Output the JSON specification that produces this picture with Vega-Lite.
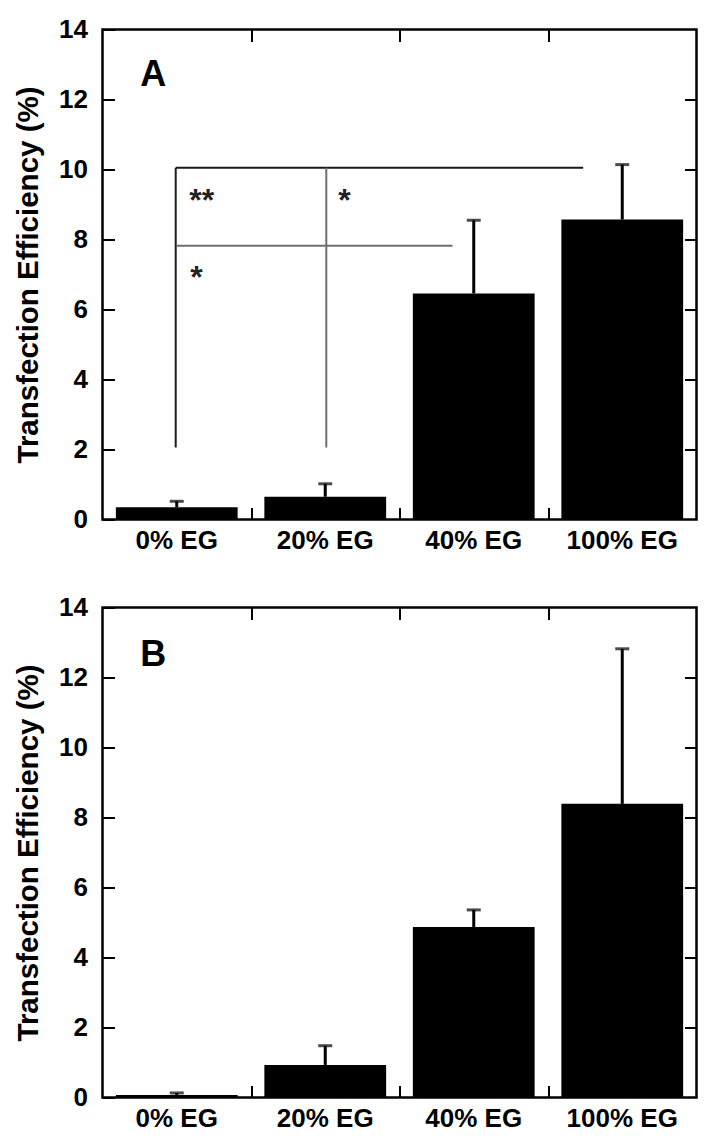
{
  "$schema": "https://vega.github.io/schema/vega-lite/v6.json",
  "padding": {"left": 11.5, "top": 14.5, "right": 12, "bottom": 10},
  "bounds": "flush",
  "spacing": 88,
  "config": {
    "font": "Liberation Sans",
    "view": {"stroke": "black", "strokeWidth": 2.5},
    "axis": {
      "labelFont": "Liberation Sans",
      "labelFontWeight": "bold",
      "labelColor": "black",
      "titleFont": "Liberation Sans",
      "titleColor": "black",
      "titleFontWeight": "bold",
      "tickColor": "black",
      "tickWidth": 2,
      "domain": false,
      "grid": false
    }
  },
  "datasets": {
    "barsA": [
      {"group": "0% EG", "value": 0.35, "upper": 0.52},
      {"group": "20% EG", "value": 0.65, "upper": 1.02},
      {"group": "40% EG", "value": 6.46, "upper": 8.55},
      {"group": "100% EG", "value": 8.57, "upper": 10.14}
    ],
    "barsB": [
      {"group": "0% EG", "value": 0.07, "upper": 0.13},
      {"group": "20% EG", "value": 0.93, "upper": 1.48},
      {"group": "40% EG", "value": 4.87, "upper": 5.36},
      {"group": "100% EG", "value": 8.39, "upper": 12.82}
    ],
    "sigLines": [
      {"x": 0.493, "x2": 3.237, "y": 10.05, "y2": 10.05, "tone": "dark"},
      {"x": 0.493, "x2": 0.493, "y": 2.06, "y2": 10.05, "tone": "dark"},
      {"x": 1.507, "x2": 1.507, "y": 2.06, "y2": 10.05, "tone": "light"},
      {"x": 0.5, "x2": 2.357, "y": 7.82, "y2": 7.82, "tone": "light"}
    ],
    "sigText": [
      {"x": 0.668, "y": 9.37, "text": "**"},
      {"x": 1.63, "y": 9.36, "text": "*"},
      {"x": 0.633, "y": 7.16, "text": "*"}
    ]
  },
  "vconcat": [
    {
      "width": 594,
      "height": 490,
      "layer": [
        {
          "data": {"name": "barsA"},
          "mark": {"type": "bar", "color": "black"},
          "encoding": {
            "x": {"field": "group", "type": "nominal", "sort": ["0% EG", "20% EG", "40% EG", "100% EG"],
              "scale": {"paddingInner": 0.18, "paddingOuter": 0.09},
              "axis": {"title": null, "labelAngle": 0, "ticks": false, "labelFontSize": 26, "labelPadding": 8}},
            "y": {"field": "value", "type": "quantitative", "scale": {"domain": [0, 14], "nice": false},
              "axis": {"values": [0, 2, 4, 6, 8, 10, 12, 14], "title": "Transfection Efficiency (%)", "titleFontSize": 29.5, "titlePadding": 15, "tickSize": -12, "labelFontSize": 26, "labelPadding": 27}}
          }
        },
        {
          "data": {"name": "barsA"},
          "mark": {"type": "rule", "color": "black", "strokeWidth": 3},
          "encoding": {
            "x": {"field": "group", "type": "nominal", "sort": ["0% EG", "20% EG", "40% EG", "100% EG"], "scale": {"paddingInner": 0.18, "paddingOuter": 0.09}, "axis": null},
            "y": {"field": "value", "type": "quantitative", "scale": {"domain": [0, 14], "nice": false}, "axis": null},
            "y2": {"field": "upper"}
          }
        },
        {
          "data": {"name": "barsA"},
          "mark": {"type": "tick", "color": "black", "size": 14, "thickness": 3},
          "encoding": {
            "x": {"field": "group", "type": "nominal", "sort": ["0% EG", "20% EG", "40% EG", "100% EG"], "scale": {"paddingInner": 0.18, "paddingOuter": 0.09}, "axis": null},
            "y": {"field": "upper", "type": "quantitative", "scale": {"domain": [0, 14], "nice": false}, "axis": null}
          }
        },
        {
          "data": {"name": "sigLines"},
          "mark": {"type": "rule", "strokeWidth": 2},
          "encoding": {
            "x": {"field": "x", "type": "quantitative", "scale": {"domain": [0, 4], "nice": false}, "axis": null},
            "x2": {"field": "x2"},
            "y": {"field": "y", "type": "quantitative", "scale": {"domain": [0, 14], "nice": false}, "axis": null},
            "y2": {"field": "y2"},
            "color": {"field": "tone", "type": "nominal", "scale": {"domain": ["dark", "light"], "range": ["#1a1a1a", "#6e6e6e"]}, "legend": null}
          }
        },
        {
          "data": {"name": "sigText"},
          "mark": {"type": "text", "fontSize": 32, "fontWeight": "bold", "color": "#222", "baseline": "middle", "align": "center", "dy": 9},
          "encoding": {
            "x": {"field": "x", "type": "quantitative", "scale": {"domain": [0, 4], "nice": false},
              "axis": {"orient": "bottom", "values": [1, 2, 3], "labels": false, "title": null, "tickSize": -12}},
            "y": {"field": "y", "type": "quantitative", "scale": {"domain": [0, 14], "nice": false}, "axis": null},
            "text": {"field": "text"}
          }
        },
        {
          "data": {"values": [{"label": "A", "x": 0.342, "y": 12.7}]},
          "mark": {"type": "text", "fontSize": 36, "fontWeight": "bold", "color": "black", "baseline": "middle", "align": "center"},
          "encoding": {
            "x": {"field": "x", "type": "quantitative", "scale": {"domain": [0, 4], "nice": false},
              "axis": {"orient": "top", "values": [1, 2, 3], "labels": false, "title": null, "tickSize": -12}},
            "y": {"field": "y", "type": "quantitative", "scale": {"domain": [0, 14], "nice": false},
              "axis": {"orient": "right", "values": [2, 4, 6, 8, 10, 12], "labels": false, "title": null, "tickSize": -12}},
            "text": {"field": "label"}
          }
        }
      ],
      "resolve": {"scale": {"x": "independent", "color": "independent"}, "axis": {"x": "independent", "y": "independent"}}
    },
    {
      "width": 594,
      "height": 490,
      "layer": [
        {
          "data": {"name": "barsB"},
          "mark": {"type": "bar", "color": "black"},
          "encoding": {
            "x": {"field": "group", "type": "nominal", "sort": ["0% EG", "20% EG", "40% EG", "100% EG"],
              "scale": {"paddingInner": 0.18, "paddingOuter": 0.09},
              "axis": {"title": null, "labelAngle": 0, "ticks": false, "labelFontSize": 26, "labelPadding": 8}},
            "y": {"field": "value", "type": "quantitative", "scale": {"domain": [0, 14], "nice": false},
              "axis": {"values": [0, 2, 4, 6, 8, 10, 12, 14], "title": "Transfection Efficiency (%)", "titleFontSize": 29.5, "titlePadding": 15, "tickSize": -12, "labelFontSize": 26, "labelPadding": 27}}
          }
        },
        {
          "data": {"name": "barsB"},
          "mark": {"type": "rule", "color": "black", "strokeWidth": 3},
          "encoding": {
            "x": {"field": "group", "type": "nominal", "sort": ["0% EG", "20% EG", "40% EG", "100% EG"], "scale": {"paddingInner": 0.18, "paddingOuter": 0.09}, "axis": null},
            "y": {"field": "value", "type": "quantitative", "scale": {"domain": [0, 14], "nice": false}, "axis": null},
            "y2": {"field": "upper"}
          }
        },
        {
          "data": {"name": "barsB"},
          "mark": {"type": "tick", "color": "black", "size": 14, "thickness": 3},
          "encoding": {
            "x": {"field": "group", "type": "nominal", "sort": ["0% EG", "20% EG", "40% EG", "100% EG"], "scale": {"paddingInner": 0.18, "paddingOuter": 0.09}, "axis": null},
            "y": {"field": "upper", "type": "quantitative", "scale": {"domain": [0, 14], "nice": false}, "axis": null}
          }
        },
        {
          "data": {"values": [{"x": 0.342, "y": 12.65}]},
          "mark": {"type": "text", "fontSize": 36, "fontWeight": "bold", "color": "black", "baseline": "middle", "align": "center"},
          "encoding": {
            "x": {"field": "x", "type": "quantitative", "scale": {"domain": [0, 4], "nice": false},
              "axis": {"orient": "bottom", "values": [1, 2, 3], "labels": false, "title": null, "tickSize": -12}},
            "y": {"field": "y", "type": "quantitative", "scale": {"domain": [0, 14], "nice": false}, "axis": null}
          }
        },
        {
          "data": {"values": [{"label": "B", "x": 0.342, "y": 12.65}]},
          "mark": {"type": "text", "fontSize": 36, "fontWeight": "bold", "color": "black", "baseline": "middle", "align": "center"},
          "encoding": {
            "x": {"field": "x", "type": "quantitative", "scale": {"domain": [0, 4], "nice": false},
              "axis": {"orient": "top", "values": [1, 2, 3], "labels": false, "title": null, "tickSize": -12}},
            "y": {"field": "y", "type": "quantitative", "scale": {"domain": [0, 14], "nice": false},
              "axis": {"orient": "right", "values": [2, 4, 6, 8, 10, 12], "labels": false, "title": null, "tickSize": -12}},
            "text": {"field": "label"}
          }
        }
      ],
      "resolve": {"scale": {"x": "independent"}, "axis": {"x": "independent", "y": "independent"}}
    }
  ]
}
